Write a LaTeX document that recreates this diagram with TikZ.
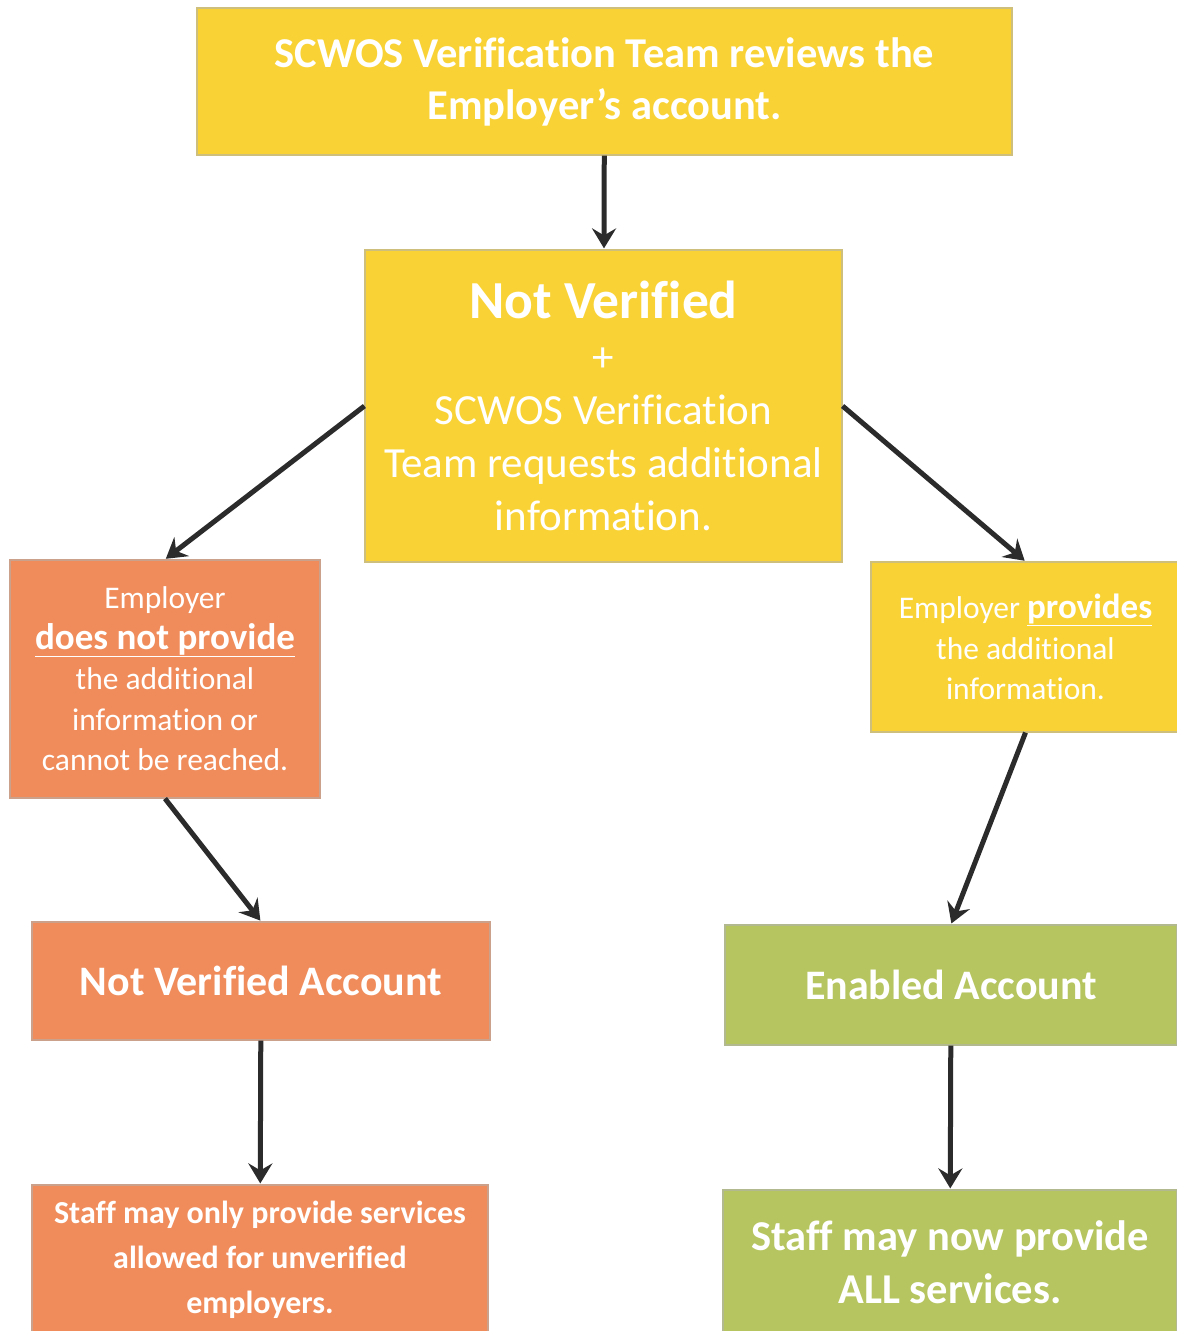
\documentclass[tikz,border=0pt]{standalone}
\usepackage{fontspec}
\setmainfont{Carlito}[Ligatures=NoCommon]
\usepackage{tikz}
\usetikzlibrary{arrows.meta}

\definecolor{boxyellow}{HTML}{F9D335}
\definecolor{boxorange}{HTML}{F08C5B}
\definecolor{boxgreen}{HTML}{B6C55F}
\definecolor{arrowgrey}{HTML}{2B2B2B}

\tikzset{
  flowbox/.style={rectangle,draw=#1!70!black!60,line width=1.2pt,fill=#1,
    text=white,align=center,inner sep=0pt},
  flowarrow/.style={-{Stealth[length=20pt,width=24pt,inset=7pt]},
    draw=arrowgrey,line width=5pt,shorten >=1pt}
}

\begin{document}
\begin{tikzpicture}[x=1pt,y=-1pt]
    \useasboundingbox (0,0) rectangle (1177,1331);
    \clip (0,0) rectangle (1177,1331);

    \node[flowbox=boxyellow,minimum width=815,minimum height=147,
      font=\fontsize{42.5}{52}\selectfont\bfseries]
      (review) at (604.5,81.5)
      {SCWOS Verification Team reviews the\\ Employer’s account.};
    \node[flowbox=boxyellow,minimum width=477,minimum height=312,
      font=\fontsize{43}{53}\selectfont]
      (notver) at (603.5,406)
      {{\fontsize{53.5}{53}\selectfont\bfseries Not Verified}\\
       +\\ SCWOS Verification\\ Team requests additional\\ information.};
    \node[flowbox=boxorange,minimum width=310,minimum height=238,
      font=\fontsize{31.5}{40.5}\selectfont]
      (noprov) at (165,679)
      {Employer\\
       {\fontsize{37}{40.5}\selectfont\bfseries\underline{does not provide}}\\
       the additional\\ information or\\ cannot be reached.};
    \node[flowbox=boxyellow,minimum width=309,minimum height=170,
      font=\fontsize{31.5}{40.5}\selectfont]
      (prov) at (1025.5,647)
      {Employer
       {\fontsize{35}{40.5}\selectfont\bfseries\underline{provides}}\\
       the additional\\ information.};
    \node[flowbox=boxorange,minimum width=458,minimum height=118,
      font=\fontsize{42}{46}\selectfont\bfseries]
      (nvacc) at (261,981)
      {Not Verified Account};
    \node[flowbox=boxgreen,minimum width=452,minimum height=120,
      font=\fontsize{42}{46}\selectfont\bfseries]
      (enabled) at (951,985)
      {Enabled Account};
    \node[flowbox=boxorange,minimum width=456,minimum height=150,
      font=\fontsize{32}{45}\selectfont\bfseries]
      (limited) at (260,1260)
      {Staff may only provide services\\ allowed for unverified\\ employers.};
    \node[flowbox=boxgreen,minimum width=454,minimum height=145,
      font=\fontsize{42.5}{53}\selectfont\bfseries]
      (allserv) at (950,1262.5)
      {Staff may now provide\\ ALL services.};

    % connectors
    \draw[flowarrow] (review) -- (notver);
    \draw[flowarrow] (notver.west) -- (noprov.north);
    \draw[flowarrow] (notver.east) -- (prov.north);
    \draw[flowarrow] (noprov.south) -- (nvacc.north);
    \draw[flowarrow] (prov.south) -- (enabled.north);
    \draw[flowarrow] (nvacc) -- (limited);
    \draw[flowarrow] (enabled) -- (allserv);
\end{tikzpicture}
\end{document}
